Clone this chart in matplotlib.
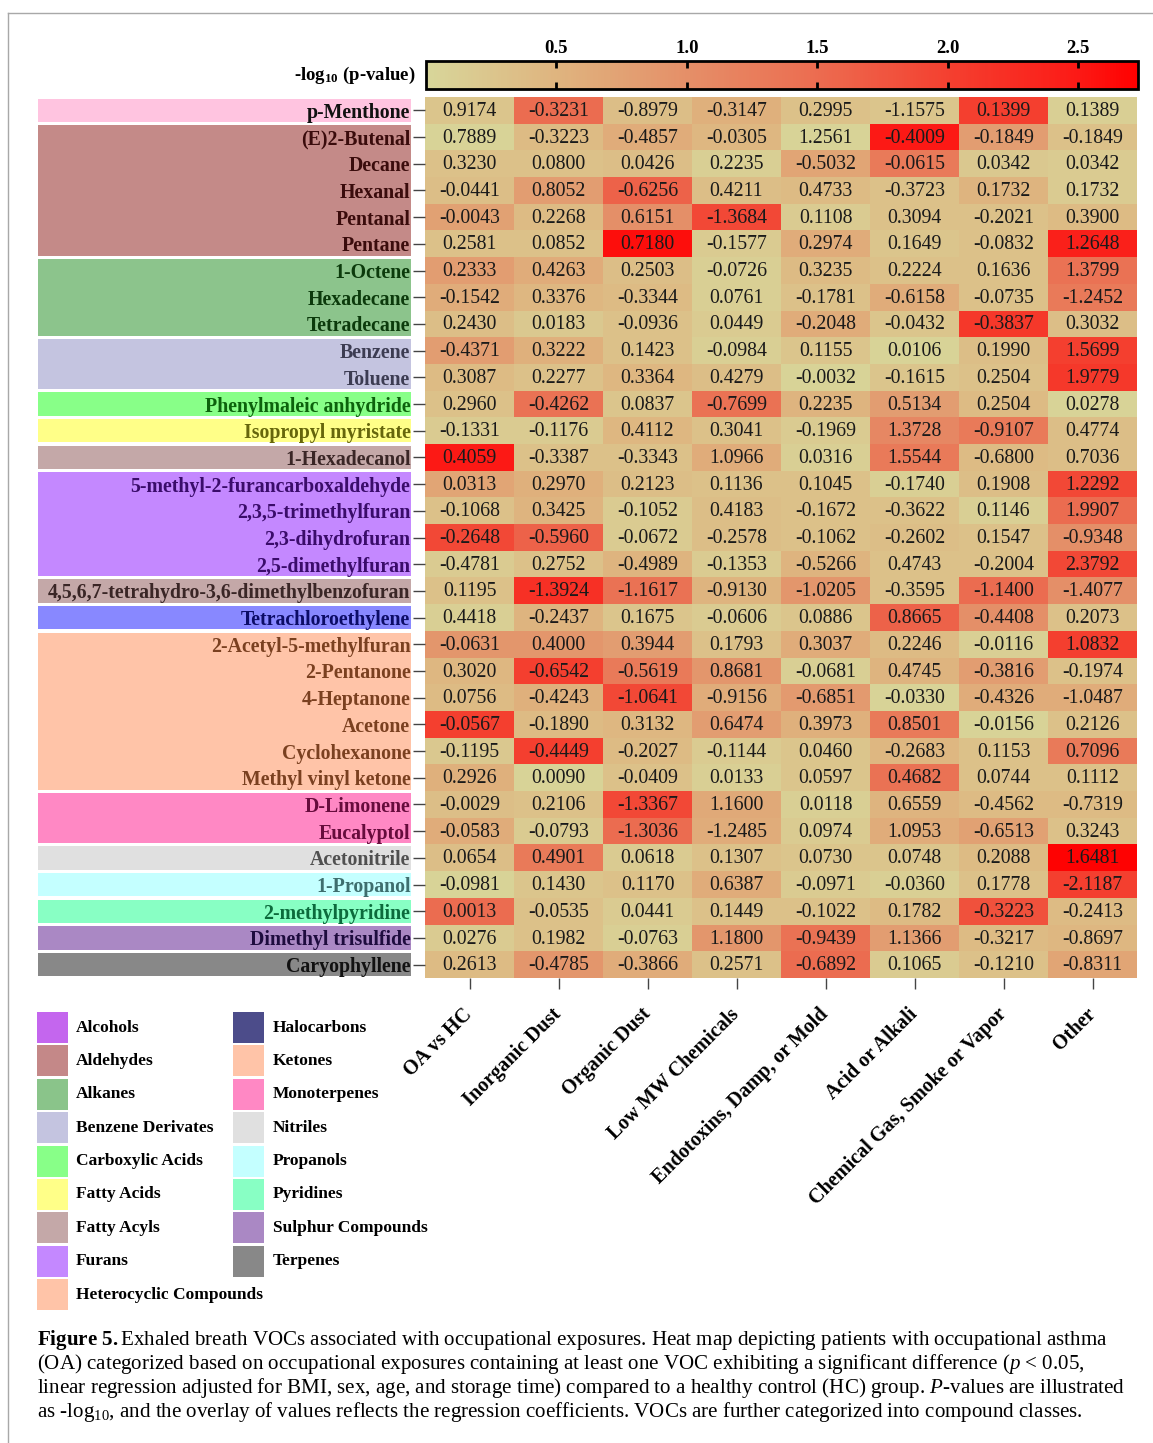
import numpy as np
import matplotlib
matplotlib.use("Agg")
import matplotlib.pyplot as plt
from matplotlib.colors import LinearSegmentedColormap
from matplotlib.patches import Rectangle
from matplotlib.lines import Line2D
import matplotlib.transforms as mtransforms

plt.rcParams['font.family'] = ['Liberation Serif', 'DejaVu Serif']
plt.rcParams['mathtext.fontset'] = 'custom'
plt.rcParams['mathtext.rm'] = 'Liberation Serif'
plt.rcParams['mathtext.it'] = 'Liberation Serif:italic'
plt.rcParams['mathtext.bf'] = 'Liberation Serif:bold'

exposures = ["OA vs HC", "Inorganic Dust", "Organic Dust", "Low MW Chemicals",
             "Endotoxins, Damp, or Mold", "Acid or Alkali",
             "Chemical Gas, Smoke or Vapor", "Other"]

vocs = ["p-Menthone", "(E)2-Butenal", "Decane", "Hexanal", "Pentanal", "Pentane",
        "1-Octene", "Hexadecane", "Tetradecane", "Benzene", "Toluene",
        "Phenylmaleic anhydride", "Isopropyl myristate", "1-Hexadecanol",
        "5-methyl-2-furancarboxaldehyde", "2,3,5-trimethylfuran", "2,3-dihydrofuran",
        "2,5-dimethylfuran", "4,5,6,7-tetrahydro-3,6-dimethylbenzofuran",
        "Tetrachloroethylene", "2-Acetyl-5-methylfuran", "2-Pentanone", "4-Heptanone",
        "Acetone", "Cyclohexanone", "Methyl vinyl ketone", "D-Limonene", "Eucalyptol",
        "Acetonitrile", "1-Propanol", "2-methylpyridine", "Dimethyl trisulfide",
        "Caryophyllene"]

# regression coefficients (cell text)
coef = [
    [0.9174, -0.3231, -0.8979, -0.3147, 0.2995, -1.1575, 0.1399, 0.1389],
    [0.7889, -0.3223, -0.4857, -0.0305, 1.2561, -0.4009, -0.1849, -0.1849],
    [0.3230, 0.0800, 0.0426, 0.2235, -0.5032, -0.0615, 0.0342, 0.0342],
    [-0.0441, 0.8052, -0.6256, 0.4211, 0.4733, -0.3723, 0.1732, 0.1732],
    [-0.0043, 0.2268, 0.6151, -1.3684, 0.1108, 0.3094, -0.2021, 0.3900],
    [0.2581, 0.0852, 0.7180, -0.1577, 0.2974, 0.1649, -0.0832, 1.2648],
    [0.2333, 0.4263, 0.2503, -0.0726, 0.3235, 0.2224, 0.1636, 1.3799],
    [-0.1542, 0.3376, -0.3344, 0.0761, -0.1781, -0.6158, -0.0735, -1.2452],
    [0.2430, 0.0183, -0.0936, 0.0449, -0.2048, -0.0432, -0.3837, 0.3032],
    [-0.4371, 0.3222, 0.1423, -0.0984, 0.1155, 0.0106, 0.1990, 1.5699],
    [0.3087, 0.2277, 0.3364, 0.4279, -0.0032, -0.1615, 0.2504, 1.9779],
    [0.2960, -0.4262, 0.0837, -0.7699, 0.2235, 0.5134, 0.2504, 0.0278],
    [-0.1331, -0.1176, 0.4112, 0.3041, -0.1969, 1.3728, -0.9107, 0.4774],
    [0.4059, -0.3387, -0.3343, 1.0966, 0.0316, 1.5544, -0.6800, 0.7036],
    [0.0313, 0.2970, 0.2123, 0.1136, 0.1045, -0.1740, 0.1908, 1.2292],
    [-0.1068, 0.3425, -0.1052, 0.4183, -0.1672, -0.3622, 0.1146, 1.9907],
    [-0.2648, -0.5960, -0.0672, -0.2578, -0.1062, -0.2602, 0.1547, -0.9348],
    [-0.4781, 0.2752, -0.4989, -0.1353, -0.5266, 0.4743, -0.2004, 2.3792],
    [0.1195, -1.3924, -1.1617, -0.9130, -1.0205, -0.3595, -1.1400, -1.4077],
    [0.4418, -0.2437, 0.1675, -0.0606, 0.0886, 0.8665, -0.4408, 0.2073],
    [-0.0631, 0.4000, 0.3944, 0.1793, 0.3037, 0.2246, -0.0116, 1.0832],
    [0.3020, -0.6542, -0.5619, 0.8681, -0.0681, 0.4745, -0.3816, -0.1974],
    [0.0756, -0.4243, -1.0641, -0.9156, -0.6851, -0.0330, -0.4326, -1.0487],
    [-0.0567, -0.1890, 0.3132, 0.6474, 0.3973, 0.8501, -0.0156, 0.2126],
    [-0.1195, -0.4449, -0.2027, -0.1144, 0.0460, -0.2683, 0.1153, 0.7096],
    [0.2926, 0.0090, -0.0409, 0.0133, 0.0597, 0.4682, 0.0744, 0.1112],
    [-0.0029, 0.2106, -1.3367, 1.1600, 0.0118, 0.6559, -0.4562, -0.7319],
    [-0.0583, -0.0793, -1.3036, -1.2485, 0.0974, 1.0953, -0.6513, 0.3243],
    [0.0654, 0.4901, 0.0618, 0.1307, 0.0730, 0.0748, 0.2088, 1.6481],
    [-0.0981, 0.1430, 0.1170, 0.6387, -0.0971, -0.0360, 0.1778, -2.1187],
    [0.0013, -0.0535, 0.0441, 0.1449, -0.1022, 0.1782, -0.3223, -0.2413],
    [0.0276, 0.1982, -0.0763, 1.1800, -0.9439, 1.1366, -0.3217, -0.8697],
    [0.2613, -0.4785, -0.3866, 0.2571, -0.6892, 0.1065, -0.1210, -0.8311],
]

# -log10(p-value) (cell colour)
neglogp = [
    [0.25, 1.5, 0.35, 0.55, 0.3, 0.25, 2.0, 0.1],
    [0.05, 0.4, 0.6, 0.45, 0.05, 2.5, 0.8, 0.3],
    [0.3, 0.3, 0.35, 0.1, 0.7, 1.3, 0.2, 0.15],
    [0.35, 0.8, 1.6, 0.35, 0.4, 0.3, 0.5, 0.15],
    [0.75, 0.4, 1.0, 1.9, 0.15, 0.3, 0.3, 0.4],
    [0.3, 0.3, 2.6, 0.15, 0.6, 0.25, 0.3, 2.4],
    [0.8, 0.6, 0.35, 0.1, 0.4, 0.3, 0.3, 1.4],
    [0.6, 0.45, 0.4, 0.1, 0.3, 0.6, 0.3, 1.3],
    [0.35, 0.2, 0.3, 0.15, 0.6, 0.25, 2.1, 0.35],
    [0.8, 0.55, 0.3, 0.1, 0.25, 0.05, 0.35, 2.0],
    [0.4, 0.3, 0.45, 0.35, 0.05, 0.25, 0.3, 2.1],
    [0.3, 1.4, 0.25, 1.4, 0.5, 0.8, 0.4, 0.05],
    [0.15, 0.15, 0.45, 0.3, 0.15, 1.1, 1.3, 0.35],
    [2.5, 0.3, 0.3, 0.6, 0.1, 1.3, 0.4, 0.35],
    [0.7, 0.55, 0.35, 0.3, 0.3, 0.1, 0.35, 1.9],
    [0.3, 0.5, 0.15, 0.35, 0.3, 0.3, 0.1, 1.5],
    [1.9, 1.6, 0.15, 0.35, 0.3, 0.35, 0.3, 1.0],
    [0.15, 0.3, 0.5, 0.15, 0.5, 0.3, 0.3, 1.9],
    [0.3, 2.2, 1.4, 0.5, 0.9, 0.3, 1.5, 1.0],
    [0.1, 0.5, 0.25, 0.15, 0.25, 1.6, 1.0, 0.3],
    [0.9, 0.9, 0.8, 0.3, 0.6, 0.4, 0.1, 2.0],
    [0.45, 2.0, 1.3, 0.9, 0.1, 0.5, 0.8, 0.3],
    [0.4, 0.55, 1.9, 0.6, 0.85, 0.05, 0.6, 0.6],
    [2.0, 0.4, 0.45, 0.8, 0.55, 1.3, 0.05, 0.3],
    [0.2, 2.0, 0.4, 0.15, 0.25, 0.45, 0.3, 1.3],
    [0.55, 0.05, 0.3, 0.1, 0.25, 1.4, 0.3, 0.3],
    [0.35, 0.3, 1.9, 0.65, 0.1, 0.5, 0.4, 0.4],
    [0.6, 0.15, 1.5, 0.6, 0.15, 0.6, 0.75, 0.3],
    [0.35, 1.3, 0.15, 0.3, 0.25, 0.25, 0.4, 2.7],
    [0.05, 0.25, 0.3, 0.6, 0.15, 0.1, 0.3, 2.0],
    [1.5, 0.3, 0.15, 0.3, 0.3, 0.4, 1.8, 0.4],
    [0.15, 0.3, 0.1, 0.9, 1.4, 0.8, 0.4, 0.45],
    [0.4, 0.9, 0.6, 0.3, 1.5, 0.15, 0.3, 0.7],
]

# row blocks: number of rows, box colour, label colour
group_sizes = [1, 5, 3, 2, 1, 1, 1, 4, 1, 1, 6, 2, 1, 1, 1, 1, 1]
group_bg = ["#ffc4e0", "#c48a88", "#8cc48c", "#c4c4e0", "#88ff88", "#ffff88", "#c4a8a8",
            "#c488ff", "#c4a8a8", "#8888ff", "#ffc4a8", "#ff88c4", "#e0e0e0", "#c4ffff",
            "#88ffc4", "#aa88c4", "#888888"]
group_fg = ["#111111", "#3a0c0c", "#0c3a0c", "#3c3c52", "#0c620c", "#66660c", "#3a2626",
            "#3a0c6a", "#3a2626", "#0c0c66", "#7a4020", "#660c3c", "#505050", "#3e6e6e",
            "#0c6a3c", "#1e0c3e", "#111111"]

classes_left = ["Alcohols", "Aldehydes", "Alkanes", "Benzene Derivates", "Carboxylic Acids",
                "Fatty Acids", "Fatty Acyls", "Furans", "Heterocyclic Compounds"]
colors_left = ["#c466ee", "#c48888", "#8ac48a", "#c4c4e0", "#88ff88", "#ffff88",
               "#c4a8a8", "#c488ff", "#ffc4a8"]
classes_right = ["Halocarbons", "Ketones", "Monoterpenes", "Nitriles", "Propanols",
                 "Pyridines", "Sulphur Compounds", "Terpenes"]
colors_right = ["#4c4c8a", "#ffc4a8", "#ff88c4", "#e0e0e0", "#c4ffff", "#88ffc4",
                "#aa88c4", "#888888"]

vmax = 2.73
cmap = LinearSegmentedColormap.from_list(
    "khaki_red",
    [(0.0, "#d8d69a"), (0.5 / vmax, "#dfb47f"), (1.0 / vmax, "#e58f68"),
     (1.5 / vmax, "#ec6c50"), (2.0 / vmax, "#f44030"), (2.5 / vmax, "#fc1a16"),
     (1.0, "#ff0000")])

W, H = 1153, 1443
fig = plt.figure(figsize=(W / 100, H / 100), dpi=100)


def px_axes(x0, y0, x1, y1):
    return fig.add_axes([x0 / W, 1 - y1 / H, (x1 - x0) / W, (y1 - y0) / H])


n_rows = len(vocs)
n_cols = len(exposures)

# coloured class boxes behind the row labels
ax_box = px_axes(38, 97, 411, 978)
ax_box.set_xlim(0, 1)
ax_box.set_ylim(n_rows - 0.5, -0.5)
ax_box.axis("off")
gap = 0.06
start = 0
row_fg = []
for size, bg, fg in zip(group_sizes, group_bg, group_fg):
    ax_box.add_patch(Rectangle((0, start - 0.5 + gap), 1, size - 2 * gap,
                               facecolor=bg, edgecolor="none"))
    row_fg += [fg] * size
    start += size

ax = px_axes(425, 97, 1137, 978)
im = ax.imshow(np.array(neglogp), cmap=cmap, vmin=0, vmax=vmax, aspect="auto",
               interpolation="nearest")
for i in range(n_rows):
    for j in range(n_cols):
        ax.text(j, i + 0.04, f"{coef[i][j]:.4f}", ha="center", va="center",
                fontsize=14.3, color="#1a1a1a")

for s in ax.spines.values():
    s.set_visible(False)
ax.set_yticks(range(n_rows))
ax.set_yticklabels(vocs, fontsize=14.3, fontweight="bold")
for lab, c in zip(ax.get_yticklabels(), row_fg):
    lab.set_color(c)
ax.tick_params(axis="y", length=8.5, width=1, color="#444444", pad=2)

ax.set_xticks(range(n_cols))
ax.set_xticklabels(exposures, fontsize=14.5, fontweight="bold", rotation=45,
                   ha="right", va="top")
ax.tick_params(axis="x", length=8, width=1, color="#444444", pad=11)
shift = mtransforms.ScaledTranslation(7 / 100, 0, fig.dpi_scale_trans)
for lab in ax.get_xticklabels():
    lab.set_transform(lab.get_transform() + shift)

# colour bar
cax = px_axes(426, 61, 1138, 89)
cb = fig.colorbar(im, cax=cax, orientation="horizontal")
cb.outline.set_linewidth(2)
cb.set_ticks([0.5, 1.0, 1.5, 2.0, 2.5])
cax.xaxis.set_ticks_position("both")
cax.tick_params(axis="x", top=True, bottom=True, labeltop=True, labelbottom=False,
                direction="in", length=5, width=2, color="black", pad=3)
for lab in cax.get_xticklabels():
    lab.set_fontsize(13.5)
    lab.set_fontweight("bold")
fig.text(416 / W, 1 - 75 / H, r"-log$_{\mathbf{10}}$ (p-value)", ha="right", va="center",
         fontsize=13.5, fontweight="bold")

# compound class legend
step = 33.4
for k, (name, c) in enumerate(zip(classes_left, colors_left)):
    y0 = 1012 + k * step
    fig.patches.append(Rectangle((37 / W, 1 - (y0 + 31) / H), 31 / W, 31 / H,
                                 facecolor=c, edgecolor="none", transform=fig.transFigure))
    fig.text(76 / W, 1 - (y0 + 15.5) / H, name, ha="left", va="center",
             fontsize=12.5, fontweight="bold")
for k, (name, c) in enumerate(zip(classes_right, colors_right)):
    y0 = 1012 + k * step
    fig.patches.append(Rectangle((233 / W, 1 - (y0 + 31) / H), 31 / W, 31 / H,
                                 facecolor=c, edgecolor="none", transform=fig.transFigure))
    fig.text(273 / W, 1 - (y0 + 15.5) / H, name, ha="left", va="center",
             fontsize=12.5, fontweight="bold")

# caption
caption = [
    r"$\mathbf{Figure\ 5.}$Exhaled breath VOCs associated with occupational exposures. "
    r"Heat map depicting patients with occupational asthma",
    r"(OA) categorized based on occupational exposures containing at least one VOC "
    r"exhibiting a significant difference ($p$ < 0.05,",
    r"linear regression adjusted for BMI, sex, age, and storage time) compared to a "
    r"healthy control (HC) group. $P$-values are illustrated",
    r"as -log$_{10}$, and the overlay of values reflects the regression coefficients. "
    r"VOCs are further categorized into compound classes.",
]
for k, line in enumerate(caption):
    fig.text(37 / W, 1 - (1340 + 24 * k) / H, line, ha="left", va="center", fontsize=15.1)

# page frame
fig.lines.append(Line2D([8 / W, 1], [1 - 13 / H, 1 - 13 / H], color="#a8a8a8",
                        lw=1, transform=fig.transFigure))
fig.lines.append(Line2D([8 / W, 8 / W], [0, 1 - 13 / H], color="#a8a8a8",
                        lw=1, transform=fig.transFigure))

fig.savefig("out.png", dpi=100, facecolor="white")
